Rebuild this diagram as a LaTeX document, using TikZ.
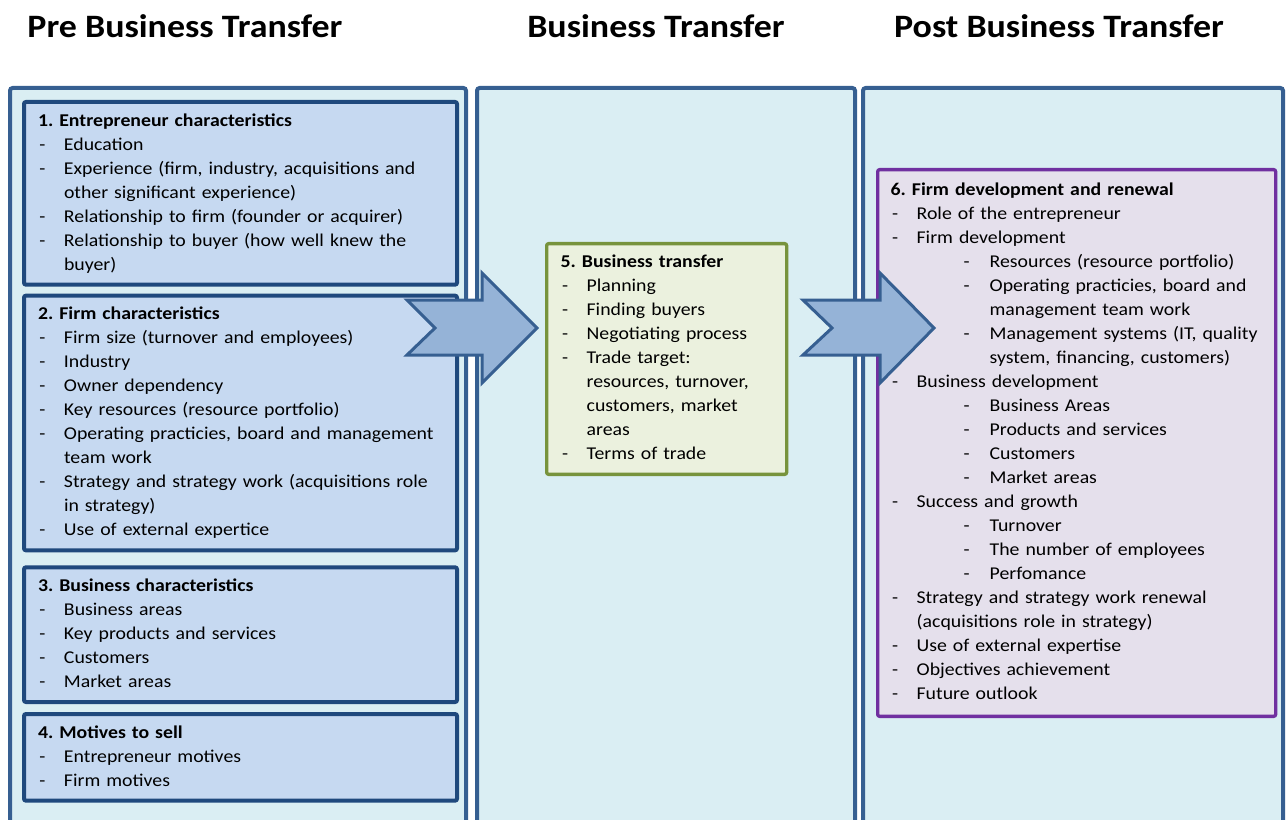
\documentclass[tikz,border=0pt]{standalone}
\usepackage{fontspec}
\setmainfont{Carlito}[FakeStretch=1.1]
\usetikzlibrary{positioning}
\frenchspacing

\definecolor{panelfill}{RGB}{218,238,243}
\definecolor{panelline}{RGB}{54,95,145}
\definecolor{boxfill}{RGB}{198,217,241}
\definecolor{boxline}{RGB}{31,73,125}
\definecolor{tradefill}{RGB}{235,241,222}
\definecolor{tradeline}{RGB}{119,147,60}
\definecolor{renewfill}{RGB}{229,224,236}
\definecolor{renewline}{RGB}{112,48,160}
\definecolor{arrowfill}{RGB}{149,179,215}

% list lines: item, continued item, sub item, continued sub item
\newcommand\hd[1]{\mbox{\bfseries #1}}
\newcommand\itm[1]{\mbox{\makebox[19.5pt][l]{\hspace{1pt}-}#1}}
\newcommand\cnt[1]{\mbox{\hspace*{19.5pt}#1}}
\newcommand\sitm[1]{\mbox{\hspace*{54.75pt}\makebox[19.5pt][l]{-}#1}}
\newcommand\scnt[1]{\mbox{\hspace*{74.25pt}#1}}

\begin{document}
\begin{tikzpicture}[x=0.75pt,y=-0.75pt,
    phase/.style={draw=panelline,fill=panelfill,line width=3pt,rounded corners=2pt},
    head/.style={font=\fontsize{24.5}{28}\selectfont\bfseries},
    block/.style={draw=boxline,fill=boxfill,line width=3pt,rounded corners=1.5pt,
      anchor=north west,align=left,inner xsep=10.5pt,inner ysep=5.5pt,
      font=\fontsize{13.5}{18}\selectfont,
      execute at begin node=\strut,execute at end node=\strut},
    trade/.style={block,draw=tradeline,fill=tradefill,line width=2.5pt},
    renew/.style={block,draw=renewline,fill=renewfill,line width=2.5pt,inner xsep=9.75pt,inner ysep=7pt},
    bigarrow/.style={draw=panelline,fill=arrowfill,line width=2.25pt,line join=miter}]
  \useasboundingbox (0,0) rectangle (1286,820);
  \clip (0,0) rectangle (1286,820);

  % phases
  \draw[phase] (10,88) rectangle (466,850);
  \draw[phase] (477,88) rectangle (855,850);
  \draw[phase] (863,88) rectangle (1283,850);

  \node[head] (pretitle) at (185,26) {Pre Business Transfer};
  \node[head] (midtitle) at (656,26) {Business Transfer};
  \node[head] (posttitle) at (1059,26) {Post Business Transfer};

  % pre business transfer
  \node[block,text width=303.75pt] (ent) at (22,100) {%
    \hd{1. Entrepreneur characteristics}\\
    \itm{Education}\\
    \itm{Experience (firm, industry, acquisitions and}\\
    \cnt{other significant experience)}\\
    \itm{Relationship to firm (founder or acquirer)}\\
    \itm{Relationship to buyer (how well knew the}\\
    \cnt{buyer)}};
  \node[block,text width=303.75pt,below=5.25pt of ent] (firm) {%
    \hd{2. Firm characteristics}\\
    \itm{Firm size (turnover and employees)}\\
    \itm{Industry}\\
    \itm{Owner dependency}\\
    \itm{Key resources (resource portfolio)}\\
    \itm{Operating practicies, board and management}\\
    \cnt{team work}\\
    \itm{Strategy and strategy work (acquisitions role}\\
    \cnt{in strategy)}\\
    \itm{Use of external expertice}};
  \node[block,text width=303.75pt,below=9.75pt of firm] (busi) {%
    \hd{3. Business characteristics}\\
    \itm{Business areas}\\
    \itm{Key products and services}\\
    \itm{Customers}\\
    \itm{Market areas}};
  \node[block,text width=303.75pt,below=6pt of busi] (motive) {%
    \hd{4. Motives to sell}\\
    \itm{Entrepreneur motives}\\
    \itm{Firm motives}};

  % business transfer
  \node[trade,text width=159pt] (transfer) at (545,242) {%
    \hd{5. Business transfer}\\
    \itm{Planning}\\
    \itm{Finding buyers}\\
    \itm{Negotiating process}\\
    \itm{Trade target:}\\
    \cnt{resources, turnover,}\\
    \cnt{customers, market}\\
    \cnt{areas}\\
    \itm{Terms of trade}};

  % post business transfer
  \node[renew,text width=279pt] (renewal) at (876,168) {%
    \hd{6. Firm development and renewal}\\
    \itm{Role of the entrepreneur}\\
    \itm{Firm development}\\
    \sitm{Resources (resource portfolio)}\\
    \sitm{Operating practicies, board and}\\
    \scnt{management team work}\\
    \sitm{Management systems (IT, quality}\\
    \scnt{system, financing, customers)}\\
    \itm{Business development}\\
    \sitm{Business Areas}\\
    \sitm{Products and services}\\
    \sitm{Customers}\\
    \sitm{Market areas}\\
    \itm{Success and growth}\\
    \sitm{Turnover}\\
    \sitm{The number of employees}\\
    \sitm{Perfomance}\\
    \itm{Strategy and strategy work renewal}\\
    \cnt{(acquisitions role in strategy)}\\
    \itm{Use of external expertise}\\
    \itm{Objectives achievement}\\
    \itm{Future outlook}};

  % block arrows
  \draw[bigarrow] (407,300) -- (482,300) -- (482,273) -- (537,328) -- (482,383)
    -- (482,355) -- (407,355) -- (435,328) -- cycle;
  \draw[bigarrow] (803,300) -- (880,300) -- (880,273) -- (934,328) -- (880,383)
    -- (880,355) -- (803,355) -- (832,328) -- cycle;
\end{tikzpicture}
\end{document}
